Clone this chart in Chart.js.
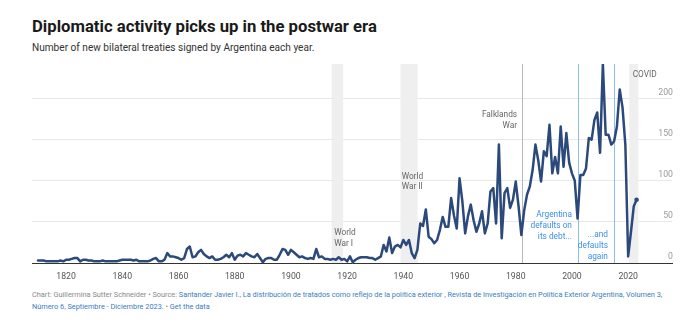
<!DOCTYPE html>
<html>
<head>
<meta charset="utf-8">
<script src="https://cdn.jsdelivr.net/npm/chart.js@4.4.1/dist/chart.umd.min.js"></script>
<style>
  html, body { margin: 0; padding: 0; background: #fff; }
  body { width: 690px; height: 334px; position: relative; overflow: hidden; font-family: Roboto, "Noto Sans", sans-serif; }
  #title { position: absolute; left: 32px; top: 17px; font-size: 16.7px; font-weight: 700; color: #1a1a1a; white-space: nowrap; }
  #sub { position: absolute; left: 32px; top: 42px; font-size: 10.1px; color: #333; white-space: nowrap; }
  #wrap { position: absolute; left: 0; top: 56px; width: 690px; height: 226px; }
  #foot { position: absolute; left: 32px; top: 289px; width: 650px; font-size: 7.35px; line-height: 12px; color: #8a8a8a; }
  #foot a { color: #3b7cc6; text-decoration: none; }
</style>
</head>
<body>
<div id="title">Diplomatic activity picks up in the postwar era</div>
<div id="sub">Number of new bilateral treaties signed by Argentina each year.</div>
<div id="wrap"><canvas id="chart"></canvas></div>
<div id="foot">Chart: Guillermina Sutter Schneider • Source: <a>Santander Javier I., La distribución de tratados como reflejo de la política exterior , Revista de Investigación en Política Exterior Argentina, Volumen 3, Número 6, Septiembre - Diciembre 2023.</a> • <a>Get the data</a></div>
<script>
// treaties per year, 1810 to 2023
const firstYear = 1810;
const treaties = [
  3, 3, 3, 2, 2, 2, 2, 2, 3, 2,          // 1810s
  4, 4, 5, 6, 6, 2, 4, 4, 3, 3,          // 1820s
  2, 2, 2, 3, 2, 2, 2, 2, 2, 3,          // 1830s
  4, 4, 4, 4, 3, 4, 2, 2, 2, 2,          // 1840s
  3, 5, 6, 2, 2, 4, 12, 8, 8, 7,         // 1850s
  6, 4, 6, 17, 20, 7, 8, 13, 16, 11,     // 1860s
  8, 6, 8, 4, 4, 5, 7, 10, 7, 12,        // 1870s
  4, 9, 10, 8, 12, 10, 8, 7, 11, 6,      // 1880s
  1, 5, 6, 6, 4, 4, 10, 17, 16, 10,      // 1890s
  16, 13, 10, 7, 8, 6, 5, 6, 5, 17,      // 1900s
  7, 8, 5, 5, 4, 5, 4, 7, 4, 5,          // 1910s
  2, 8, 1, 4, 6, 7, 7, 7, 6, 6,          // 1920s
  4, 6, 8, 22, 14, 31, 12, 20, 22, 19,   // 1930s
  28, 22, 28, 12, 6, 16, 48, 45, 65, 32, // 1940s
  29, 24, 28, 40, 56, 44, 44, 79, 58, 42,          // 1950s
  103, 75, 36, 57, 71, 52, 38, 48, 63, 36,         // 1960s
  48, 87, 91, 48, 144, 30, 85, 91, 67, 77,         // 1970s
  99, 69, 34, 64, 83, 93, 113, 144, 125, 99,       // 1980s
  136, 130, 168, 109, 129, 109, 166, 117, 158, 122, // 1990s
  109, 100, 54, 107, 107, 115, 152, 150, 174, 183, // 2000s
  134, 242, 156, 156, 144, 148, 166, 211, 189, 144, // 2010s
  8, 38, 69, 77                                     // 2020s
];
const years = treaties.map((_, i) => firstYear + i);

const yearTicks = [1820, 1840, 1860, 1880, 1900, 1920, 1940, 1960, 1980, 2000, 2020];
const countTicks = [0, 50, 100, 150, 200];

// shaded periods and event lines, in years
const bands = [
  { from: 1914.5, to: 1918.6 },
  { from: 1939.0, to: 1945.1 },
  { from: 2020.4, to: 2023.6 }
];
const eventLines = [
  { year: 1982.3, color: "#b8b8b8" },
  { year: 2002.0, color: "#8cbcf0" },
  { year: 2014.9, color: "#8cbcf0" }
];
const notes = [
  { lines: ["World", "War I"], year: 1915.4, value: 36, align: "left", color: "#666" },
  { lines: ["World", "War II"], year: 1939.4, value: 105, align: "left", color: "#666" },
  { lines: ["Falklands", "War"], year: 1980.5, value: 180, align: "right", color: "#666" },
  { lines: ["Argentina", "defaults on", "its debt..."], year: 2000.0, value: 58, align: "right", color: "#3d8fe6" },
  { lines: ["...and", "defaults", "again"], year: 2012.8, value: 34, align: "right", color: "#3d8fe6" },
  { lines: ["COVID"], year: 2021.6, value: 229, align: "left", color: "#666" }
];

const FONT = "Roboto, 'Noto Sans', sans-serif";

const backdrop = {
  id: "backdrop",
  beforeDatasetsDraw(chart) {
    const { ctx, chartArea: a, scales: { x } } = chart;
    ctx.save();
    ctx.fillStyle = "#efefef";
    bands.forEach(b => {
      const x0 = x.getPixelForValue(b.from), x1 = x.getPixelForValue(b.to);
      ctx.fillRect(x0, a.top, x1 - x0, a.bottom - a.top);
    });
    ctx.lineWidth = 1;
    eventLines.forEach(l => {
      const px = Math.round(x.getPixelForValue(l.year)) + 0.5;
      ctx.strokeStyle = l.color;
      ctx.beginPath();
      ctx.moveTo(px, a.top);
      ctx.lineTo(px, a.bottom);
      ctx.stroke();
    });
    ctx.restore();
  },
  afterDatasetsDraw(chart) {
    const { ctx, scales: { x, y } } = chart;
    ctx.save();
    ctx.font = "8.3px " + FONT;
    ctx.textBaseline = "middle";
    notes.forEach(n => {
      const px = x.getPixelForValue(n.year), py = y.getPixelForValue(n.value);
      ctx.fillStyle = n.color;
      ctx.textAlign = n.align;
      n.lines.forEach((t, i) => ctx.fillText(t, px, py + i * 10.7));
    });
    ctx.restore();
  }
};

new Chart(document.getElementById("chart"), {
  type: "line",
  data: {
    labels: years,
    datasets: [{
      data: years.map((yr, i) => ({ x: yr, y: treaties[i] })),
      borderColor: "#2b4a7b",
      backgroundColor: "#2b4a7b",
      borderWidth: 2.5,
      borderJoinStyle: "round",
      borderCapStyle: "round",
      tension: 0,
      pointRadius: ctx => ctx.dataIndex === treaties.length - 1 ? 2.3 : 0,
      pointBorderWidth: 0,
      pointHoverRadius: 0
    }]
  },
  options: {
    responsive: true,
    maintainAspectRatio: false,
    animation: false,
    events: [],
    layout: { padding: { left: 32, right: 18, top: 8, bottom: 0 } },
    plugins: { legend: { display: false }, tooltip: { enabled: false } },
    scales: {
      x: {
        type: "linear",
        min: 1807.86,
        max: 2035.6,
        grid: { display: false },
        border: { display: true, color: "#333", width: 1 },
        ticks: { color: "#555", padding: 1, maxRotation: 0, font: { family: FONT, size: 8.7 }, callback: v => String(v) },
        afterBuildTicks: s => { s.ticks = yearTicks.map(v => ({ value: v })); },
        afterFit: s => { s.height = 19; }
      },
      y: {
        position: "right",
        min: 0,
        max: 242,
        grid: { color: "#e8e8e8", drawTicks: false },
        border: { display: false },
        ticks: { mirror: true, padding: 1, labelOffset: -6, color: "#9a9a9a", font: { family: FONT, size: 8.7 } },
        afterBuildTicks: s => { s.ticks = countTicks.map(v => ({ value: v })); },
        afterFit: s => { s.width = 0; }
      }
    }
  },
  plugins: [backdrop]
});
</script>
</body>
</html>
